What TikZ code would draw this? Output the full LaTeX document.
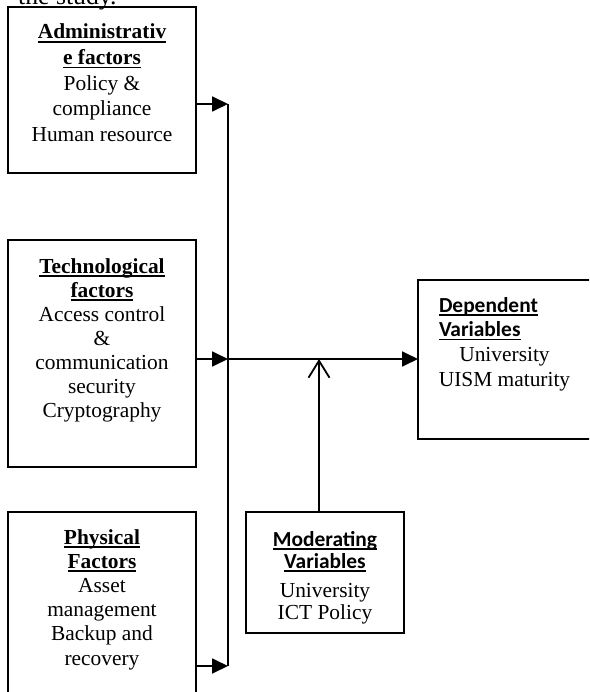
\documentclass[tikz,border=0pt]{standalone}
\usepackage{fontspec}
\setmainfont{Liberation Serif}
\newfontfamily\hsans{Carlito}
\usetikzlibrary{arrows.meta}
\newsavebox\hulbox
\newcommand\hul[1]{\leavevmode\sbox\hulbox{#1}\rlap{\rule[-3.6pt]{\wd\hulbox}{1.4pt}}\usebox\hulbox}
\newcommand\shead[1]{{\hsans\bfseries\hul{#1}}}
\newcommand\rhead[1]{{\bfseries\hul{#1}}}
\begin{document}
\begin{tikzpicture}[x=1pt,y=-1pt,
  fbox/.style={draw, line width=1.8pt, inner sep=0pt, outer sep=0pt, anchor=north west},
  conn/.style={line width=1.8pt},
  arr/.style={conn,-{Triangle[length=16pt,width=15pt]}},
  barb/.style={conn,-{Straight Barb[length=17pt,width=21pt]}}]
\useasboundingbox (0,0) rectangle (589,692);
\clip (0,0) rectangle (589,692);

\node[anchor=base west, inner sep=0pt] (intro) at (18,5) {\fontsize{25.7}{30}\selectfont the study.};

\node[fbox] (adm) at (8,7) {\parbox[c][166pt][t]{188pt}{\centering\fontsize{21.4}{25.6}\selectfont
  \rule{0pt}{32pt}\rhead{Administrativ}\\
  \rhead{e factors}\\
  Policy \&\\
  compliance\\
  Human resource\par}};

\node[fbox] (tech) at (8,240) {\parbox[c][227pt][t]{188pt}{\centering\fontsize{21.4}{24}\selectfont
  \rule{0pt}{33pt}\rhead{Technological}\\
  \rhead{factors}\\
  Access control\\
  \&\\
  communication\\
  security\\
  Cryptography\par}};

\node[fbox] (phys) at (8,512) {\parbox[c][190pt][t]{188pt}{\centering\fontsize{21.4}{24.2}\selectfont
  \rule{0pt}{32pt}\rhead{Physical}\\
  \rhead{Factors}\\
  Asset\\
  management\\
  Backup and\\
  recovery\par}};

\node[fbox] (dep) at (418,280) {\parbox[c][159pt][t]{182pt}{\raggedright\fontsize{21.4}{24.7}\selectfont
  \hspace*{21pt}\rule{0pt}{32pt}\shead{Dependent}\\
  \hspace*{21pt}\shead{Variables}\\
  \hspace*{21pt}\makebox[131pt]{University}\\
  \hspace*{21pt}\makebox[131pt]{UISM maturity}\par}};

\node[fbox] (mod) at (246,512) {\parbox[c][121pt][t]{158pt}{\centering\fontsize{21.4}{24.5}\selectfont
  \rule{0pt}{34pt}\shead{Moderating}\\[-2.5pt]
  \shead{Variables}\\[4.5pt]
  University\\[-2.5pt]
  ICT Policy\par}};

\coordinate (j1) at (228,104);
\coordinate (j2) at (228,359);
\coordinate (j3) at (228,666);
\coordinate (m) at (319,359);

\draw[conn] (j1) -- (j3);
\draw[arr] (adm.east |- j1) -- (j1);
\draw[arr] (tech.east |- j2) -- (j2);
\draw[arr] (phys.east |- j3) -- (j3);
\draw[arr] (j2) -- (dep.west |- j2);
\draw[barb] (mod.north -| m) -- (m);
\end{tikzpicture}
\end{document}
